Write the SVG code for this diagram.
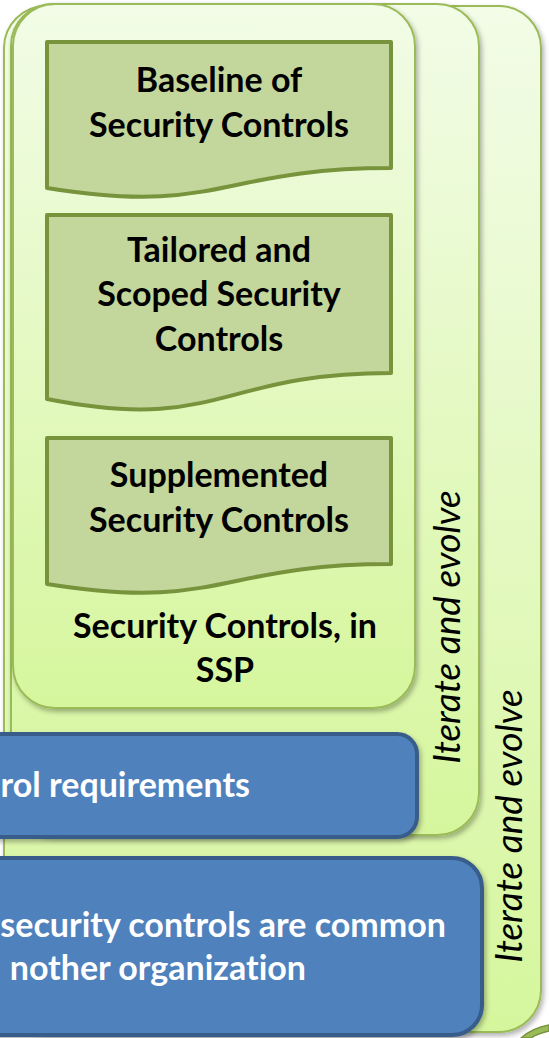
<svg xmlns="http://www.w3.org/2000/svg" width="549" height="1038" viewBox="0 0 549 1038">
<defs>
<linearGradient id="pg" x1="0" y1="0" x2="0" y2="1">
<stop offset="0" stop-color="#f2fce7"/>
<stop offset="1" stop-color="#d6f69d"/>
</linearGradient>
<filter id="sh" x="-10%" y="-10%" width="120%" height="120%">
<feDropShadow dx="2" dy="3" stdDeviation="2.5" flood-color="#000" flood-opacity="0.3"/>
</filter>
<style>
text{font-family:Lato,"Open Sans",sans-serif;font-variant-ligatures:none;font-feature-settings:"liga" 0,"clig" 0}
.panel{fill:url(#pg);stroke:#9bbb59;stroke-width:2;filter:url(#sh)}
.doc{fill:#c3d69b;stroke:#77933c;stroke-width:4;stroke-linejoin:round}
.blue{fill:#4f81bd;stroke:#385d8a;stroke-width:4;filter:url(#sh)}
.t{font-weight:bold;font-size:34px;fill:#000;text-anchor:middle}
.w{font-weight:bold;font-size:34px;fill:#fff;text-anchor:end}
.it{font-style:italic;font-size:37px;fill:#000;text-anchor:middle}
</style>
</defs>
<rect width="549" height="1038" fill="#fff"/>
<g id="panel-outer">
<rect class="panel" x="4" y="6" width="537" height="1026" rx="42"/>
<text class="it" transform="translate(522,826) rotate(-90)">Iterate and evolve</text>
</g>
<g id="panel-middle">
<rect class="panel" x="11" y="4" width="468" height="831" rx="42"/>
<text class="it" transform="translate(460,627) rotate(-90)">Iterate and evolve</text>
</g>
<g id="panel-inner">
<rect class="panel" x="13" y="4" width="402" height="704" rx="42"/>
<text class="t" x="225" y="638">Security Controls, in</text>
<text class="t" x="225" y="682">SSP</text>
</g>
<g id="doc-baseline">
<path class="doc" d="M47,42 H391 V168 C219,168 219,216 47,188 Z"/>
<text class="t" x="219" y="92">Baseline of</text>
<text class="t" x="219" y="137">Security Controls</text>
</g>
<g id="doc-tailored">
<path class="doc" d="M47,215 H391 V373 C219,373 219,433 47,399 Z"/>
<text class="t" x="219" y="262">Tailored and</text>
<text class="t" x="219" y="306">Scoped Security</text>
<text class="t" x="219" y="351">Controls</text>
</g>
<g id="doc-supplemented">
<path class="doc" d="M47,438 H391 V564 C219,564 219,612 47,584 Z"/>
<text class="t" x="219" y="487">Supplemented</text>
<text class="t" x="219" y="532">Security Controls</text>
</g>
<g id="box-requirements">
<rect class="blue" x="-300" y="734" width="717" height="103" rx="20"/>
<text class="w" x="250" y="797">rol requirements</text>
</g>
<g id="box-common">
<rect class="blue" x="-300" y="858" width="782" height="177" rx="30"/>
<text class="w" x="446" y="937">security controls are common</text>
<text class="w" x="306" y="980">nother organization</text>
</g>
<g id="connectors">
<path d="M521,1038 C530,1030 538,1027 549,1025 L549,1031 C541,1033 535,1035 531,1038 Z" fill="#9bbb59" stroke="#77933c" stroke-width="1.5"/>
</g>
</svg>
